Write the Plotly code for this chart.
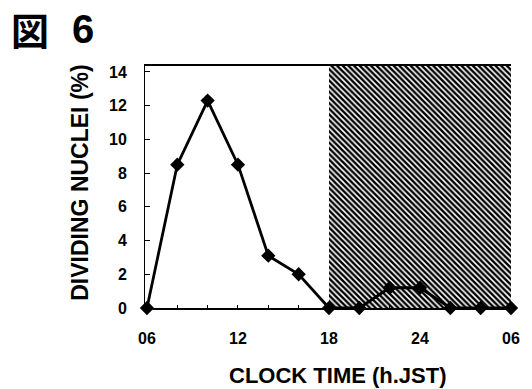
import plotly.graph_objects as go

# ---- data ----
clock_hours = [6, 8, 10, 12, 14, 16, 18, 20, 22, 24, 26, 28, 30]
dividing_nuclei = [0.0, 8.5, 12.3, 8.5, 3.1, 2.0, 0.0, 0.0, 1.2, 1.2, 0.0, 0.0, 0.0]
x_tick_vals = [6, 12, 18, 24, 30]
x_tick_text = ["06", "12", "18", "24", "06"]
y_tick_vals = [0, 2, 4, 6, 8, 10, 12, 14]
night_start = 18
night_end = 30
x_range = [5.87, 30.0]
y_range = [0.0, 14.35]

FONT = "Liberation Sans"

fig = go.Figure()

# dark period (hatched)
fig.add_trace(go.Bar(
    x=[(night_start + night_end) / 2],
    y=[y_range[1]],
    width=[night_end - night_start],
    base=[0],
    marker=dict(
        color="white",
        line=dict(width=0),
        pattern=dict(shape="\\", fgcolor="black", bgcolor="white",
                     size=4, solidity=0.6, fillmode="replace"),
    ),
    hoverinfo="skip",
    showlegend=False,
))

# data line
fig.add_trace(go.Scatter(
    x=clock_hours,
    y=dividing_nuclei,
    mode="lines+markers",
    line=dict(color="black", width=2.8),
    marker=dict(symbol="diamond", size=11, color="black"),
    cliponaxis=False,
    showlegend=False,
))

fig.update_layout(
    width=532,
    height=389,
    margin=dict(l=145, r=17, t=66, b=81),
    paper_bgcolor="white",
    plot_bgcolor="white",
    bargap=0,
    font=dict(family=FONT, color="black"),
    xaxis=dict(
        range=x_range,
        tickvals=x_tick_vals,
        ticktext=x_tick_text,
        ticks="",
        showgrid=False,
        zeroline=False,
        showline=True,
        linecolor="black",
        linewidth=1.5,
        mirror=True,
        tickfont=dict(family=FONT, size=16, weight="bold"),
        ticklabelstandoff=15,
        minor=dict(dtick=2, tick0=6, ticks="inside", ticklen=3,
                   tickwidth=1, tickcolor="black", showgrid=False),
    ),
    yaxis=dict(
        range=y_range,
        tickvals=y_tick_vals,
        ticks="inside",
        ticklen=5,
        tickwidth=1,
        tickcolor="black",
        showgrid=False,
        zeroline=False,
        showline=True,
        linecolor="black",
        linewidth=1,
        tickfont=dict(family=FONT, size=16, weight="bold"),
        ticklabelstandoff=14,
    ),
    annotations=[
        dict(text="DIVIDING NUCLEI (%)", xref="paper", yref="paper",
             x=-0.178, y=0.517, xanchor="center", yanchor="middle",
             textangle=-90, showarrow=False,
             font=dict(family=FONT, size=23, weight="bold")),
        dict(text="CLOCK TIME (h.JST)", xref="paper", yref="paper",
             x=0.527, y=-0.279, xanchor="center", yanchor="middle",
             showarrow=False,
             font=dict(family=FONT, size=22, weight="bold")),
        dict(text="図", xref="paper", yref="paper",
             x=-0.3135, y=1.157, xanchor="center", yanchor="middle",
             showarrow=False,
             font=dict(family="Noto Sans CJK JP", size=38, weight="bold")),
        dict(text="6", xref="paper", yref="paper",
             x=-0.170, y=1.153, xanchor="center", yanchor="middle",
             showarrow=False,
             font=dict(family=FONT, size=40, weight="bold")),
    ],
)

fig.write_html("out.html")
